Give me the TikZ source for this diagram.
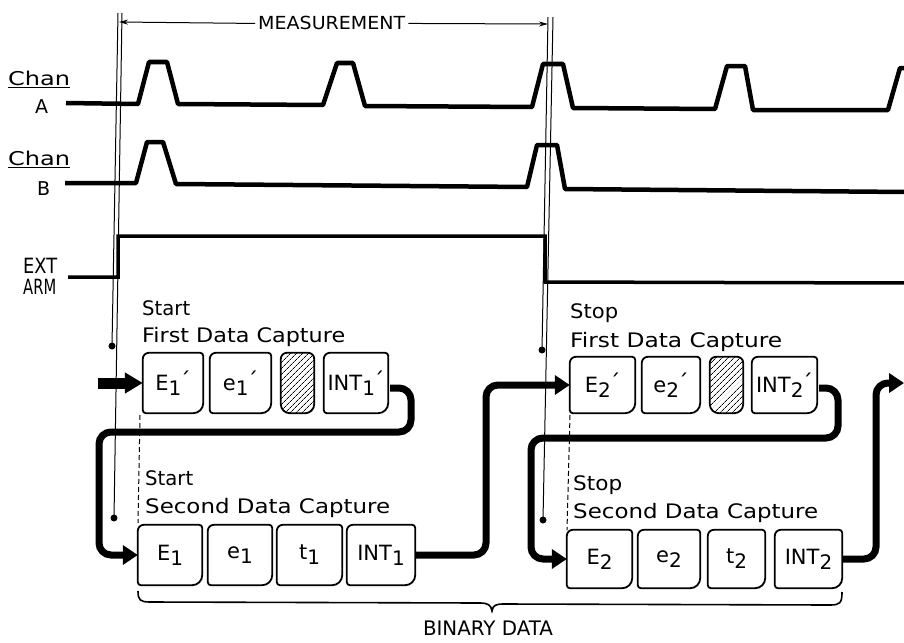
\documentclass[tikz,border=0pt]{standalone}
\usepackage{fontspec}
\setmainfont{DejaVu Sans}
\usetikzlibrary{arrows.meta,calc,patterns.meta}
\newcommand\wt[2]{\resizebox{#1}{\height}{#2}}
\newcommand\lo[1]{\raisebox{-5pt}{\fontsize{20}{20}\selectfont #1}}
\newcommand\pr{\kern-1.5pt\raisebox{1.5pt}{\fontsize{22}{22}\selectfont\char"00B4}}
\tikzset{
  lbl/.style={font=\fontsize{20}{22}\selectfont, inner sep=0pt, anchor=base west},
  wave/.style={line width=4.5pt, line join=round},
  armline/.style={line width=3.5pt, line join=miter},
  guide/.style={line width=1pt},
  card/.style={rectangle, inner sep=0pt, font=\fontsize{21}{23}\selectfont},
  cardline/.style={line width=1.8pt},
  conn/.style={line width=7pt, rounded corners=12pt, -{Triangle[length=15pt,width=19pt]}},
  entry/.style={line width=11pt, -{Triangle[length=18pt,width=20pt]}},
  dotn/.style={circle, fill, inner sep=0pt, minimum size=7pt},
}
\begin{document}
\begin{tikzpicture}[x=1pt,y=-1pt]
\useasboundingbox (0,0) rectangle (904,642);

% ---- labels left
\node[lbl, font=\fontsize{19}{21}\selectfont] (chA) at (8,85) {\wt{62pt}{Chan}};
\draw[line width=1.2pt] ($(chA.base west)+(0,2.5)$) -- ($(chA.base east)+(0,2.5)$);
\node[lbl, font=\fontsize{19}{21}\selectfont] (lA) at (35,113) {A};
\node[lbl, font=\fontsize{19}{21}\selectfont] (chB) at (8,165) {\wt{62pt}{Chan}};
\draw[line width=1.2pt] ($(chB.base west)+(0,2.5)$) -- ($(chB.base east)+(0,2.5)$);
\node[lbl, font=\fontsize{19}{21}\selectfont] (lB) at (37,195) {B};
\node[lbl, font=\fontsize{21}{23}\selectfont] (ext) at (23,273) {\wt{34pt}{EXT}};
\node[lbl, font=\fontsize{21}{23}\selectfont] (arm) at (23,294) {\wt{33pt}{ARM}};

% ---- waveforms
\draw[wave] (66,103) -- (138,104) -- (149,62) -- (167,62) -- (178,104)
  -- (323,105) -- (337,63) -- (353,63) -- (365,106)
  -- (532,107) -- (543,64) -- (563,64) -- (573,108)
  -- (715,109) -- (727,66) -- (745,66) -- (753,110)
  -- (888,110) -- (900,68) -- (906,68);
\draw[wave] (65,183) -- (136,183) -- (147,142) -- (163,142) -- (176,184)
  -- (527,187) -- (537,145) -- (557,145) -- (565,189) -- (906,192);
\draw[armline] (68,277) -- (118,277) -- (118,236) -- (545,236) -- (545,282) -- (906,283);

% ---- guide lines and dots
\coordinate (g1) at (118,13);
\coordinate (g2) at (122,13);
\coordinate (g3) at (548,17);
\coordinate (g4) at (553,17);
\node[dotn] (d1) at (112,346) {};
\node[dotn] (d2) at (114,518) {};
\node[dotn] (d3) at (542,350) {};
\node[dotn] (d4) at (543,520) {};
\draw[guide] (g1) -- (d1.center);
\draw[guide] (g2) -- (d2.center);
\draw[guide] (g3) -- (d3.center);
\draw[guide] (g4) -- (d4.center);

% ---- measurement
\node[lbl, font=\fontsize{18}{20}\selectfont] (meas) at (258,30) {\wt{147pt}{MEASUREMENT}};
\coordinate (mL) at (119,22);
\coordinate (mR) at (548,24);
\draw[guide, -{Stealth[length=9pt,width=5pt]}] ([xshift=-3pt]meas.west) -- (mL);
\draw[guide, -{Stealth[length=9pt,width=5pt]}] ([xshift=3pt]meas.east) -- (mR);

% ---- texts above boxes
\node[lbl] (s1a) at (142,315) {\wt{48pt}{Start}};
\node[lbl] (s1b) at (142,342) {\wt{203pt}{First Data Capture}};
\node[lbl] (s2a) at (145,485) {\wt{48pt}{Start}};
\node[lbl] (s2b) at (145,513) {\wt{245pt}{Second Data Capture}};
\node[lbl] (p1a) at (570,318) {\wt{48pt}{Stop}};
\node[lbl] (p1b) at (570,347) {\wt{212pt}{First Data Capture}};
\node[lbl] (p2a) at (573,490) {\wt{49pt}{Stop}};
\node[lbl] (p2b) at (573,518) {\wt{245pt}{Second Data Capture}};

% ---- boxes
\node[card, minimum width=60pt, minimum height=60pt] (E1p) at (173,383) {E\lo{1}\pr};
\node[card, minimum width=61pt, minimum height=60pt] (e1p) at (240.5,383) {e\lo{1}\pr};
\node[card, minimum width=33pt, minimum height=60pt] (h1) at (297.5,383) {};
\node[card, minimum width=64pt, minimum height=60pt] (INT1p) at (356,383) {INT\lo{1}\pr};

\node[card, minimum width=64pt, minimum height=60pt] (E1) at (170,555) {E\lo{1}};
\node[card, minimum width=64pt, minimum height=60pt] (e1) at (240,555) {e\lo{1}};
\node[card, minimum width=65pt, minimum height=60pt] (t1) at (309.5,555) {t\lo{1}};
\node[card, minimum width=68pt, minimum height=60pt] (INT1) at (381,555) {INT\lo{1}};

\node[card, minimum width=65pt, minimum height=56pt] (E2p) at (602.5,385) {E\lo{2}\pr};
\node[card, minimum width=58pt, minimum height=56pt] (e2p) at (671,385) {e\lo{2}\pr};
\node[card, minimum width=33pt, minimum height=56pt] (h2) at (726.5,385) {};
\node[card, minimum width=65pt, minimum height=56pt] (INT2p) at (784.5,385) {INT\lo{2}\pr};

\node[card, minimum width=65pt, minimum height=58pt] (E2) at (599.5,559) {E\lo{2}};
\node[card, minimum width=62pt, minimum height=58pt] (e2) at (669,559) {e\lo{2}};
\node[card, minimum width=57pt, minimum height=58pt] (t2) at (736.5,559) {t\lo{2}};
\node[card, minimum width=67pt, minimum height=58pt] (INT2) at (808.5,559) {INT\lo{2}};

\foreach \n in {E1p,e1p,INT1p,E1,e1,t1,INT1,E2p,e2p,INT2p,E2,e2,t2,INT2}
  \draw[cardline] (\n.west) [rounded corners=6pt] |- (\n.north) [rounded corners=3pt] -| (\n.east)
     [rounded corners=10pt] |- (\n.south) [rounded corners=3pt] -| (\n.west) -- cycle;
\foreach \n in {h1,h2}
  \draw[cardline, pattern={Lines[angle=45,distance=4pt,line width=0.7pt]}]
     (\n.west) [rounded corners=6pt] |- (\n.north) [rounded corners=6pt] -| (\n.east)
     [rounded corners=9pt] |- (\n.south) [rounded corners=9pt] -| (\n.west) -- cycle;

% ---- dashed markers
\draw[guide, dash pattern=on 5pt off 3pt] (140,415) -- (138,523);
\draw[guide, dash pattern=on 5pt off 3pt] (570,415) -- (567,530);

% ---- connectors
\coordinate (in1) at (98,383);
\draw[entry] (in1) -- (E1p.west);
\draw[conn] ($(INT1p.east)+(2,5)$) -- (411,388) -- (411,432) -- (99,432) -- (99,555) -- (E1.west);
\draw[conn] (INT1.east) -- (486,555) -- (486,385) -- (E2p.west);
\draw[conn] ($(INT2p.east)+(2,3)$) -- (838,388) -- (838,438) -- (531,438) -- (531,559) -- (E2.west);
\coordinate (out2) at (904,383);
\draw[conn] (INT2.east) -- (876,559) -- (876,383) -- (out2);

% ---- binary data bracket
\draw[line width=1.6pt] (138,591) .. controls (138,600) and (140,602) .. (150,602) -- (480,603)
  .. controls (488,603) and (491,605) .. (492,611) .. controls (493,605) and (496,604) .. (504,604)
  -- (830,605) .. controls (840,605) and (842,603) .. (842,592);
\node[lbl, anchor=base] (bd) at (488,635) {\wt{130pt}{BINARY DATA}};
\end{tikzpicture}
\end{document}
